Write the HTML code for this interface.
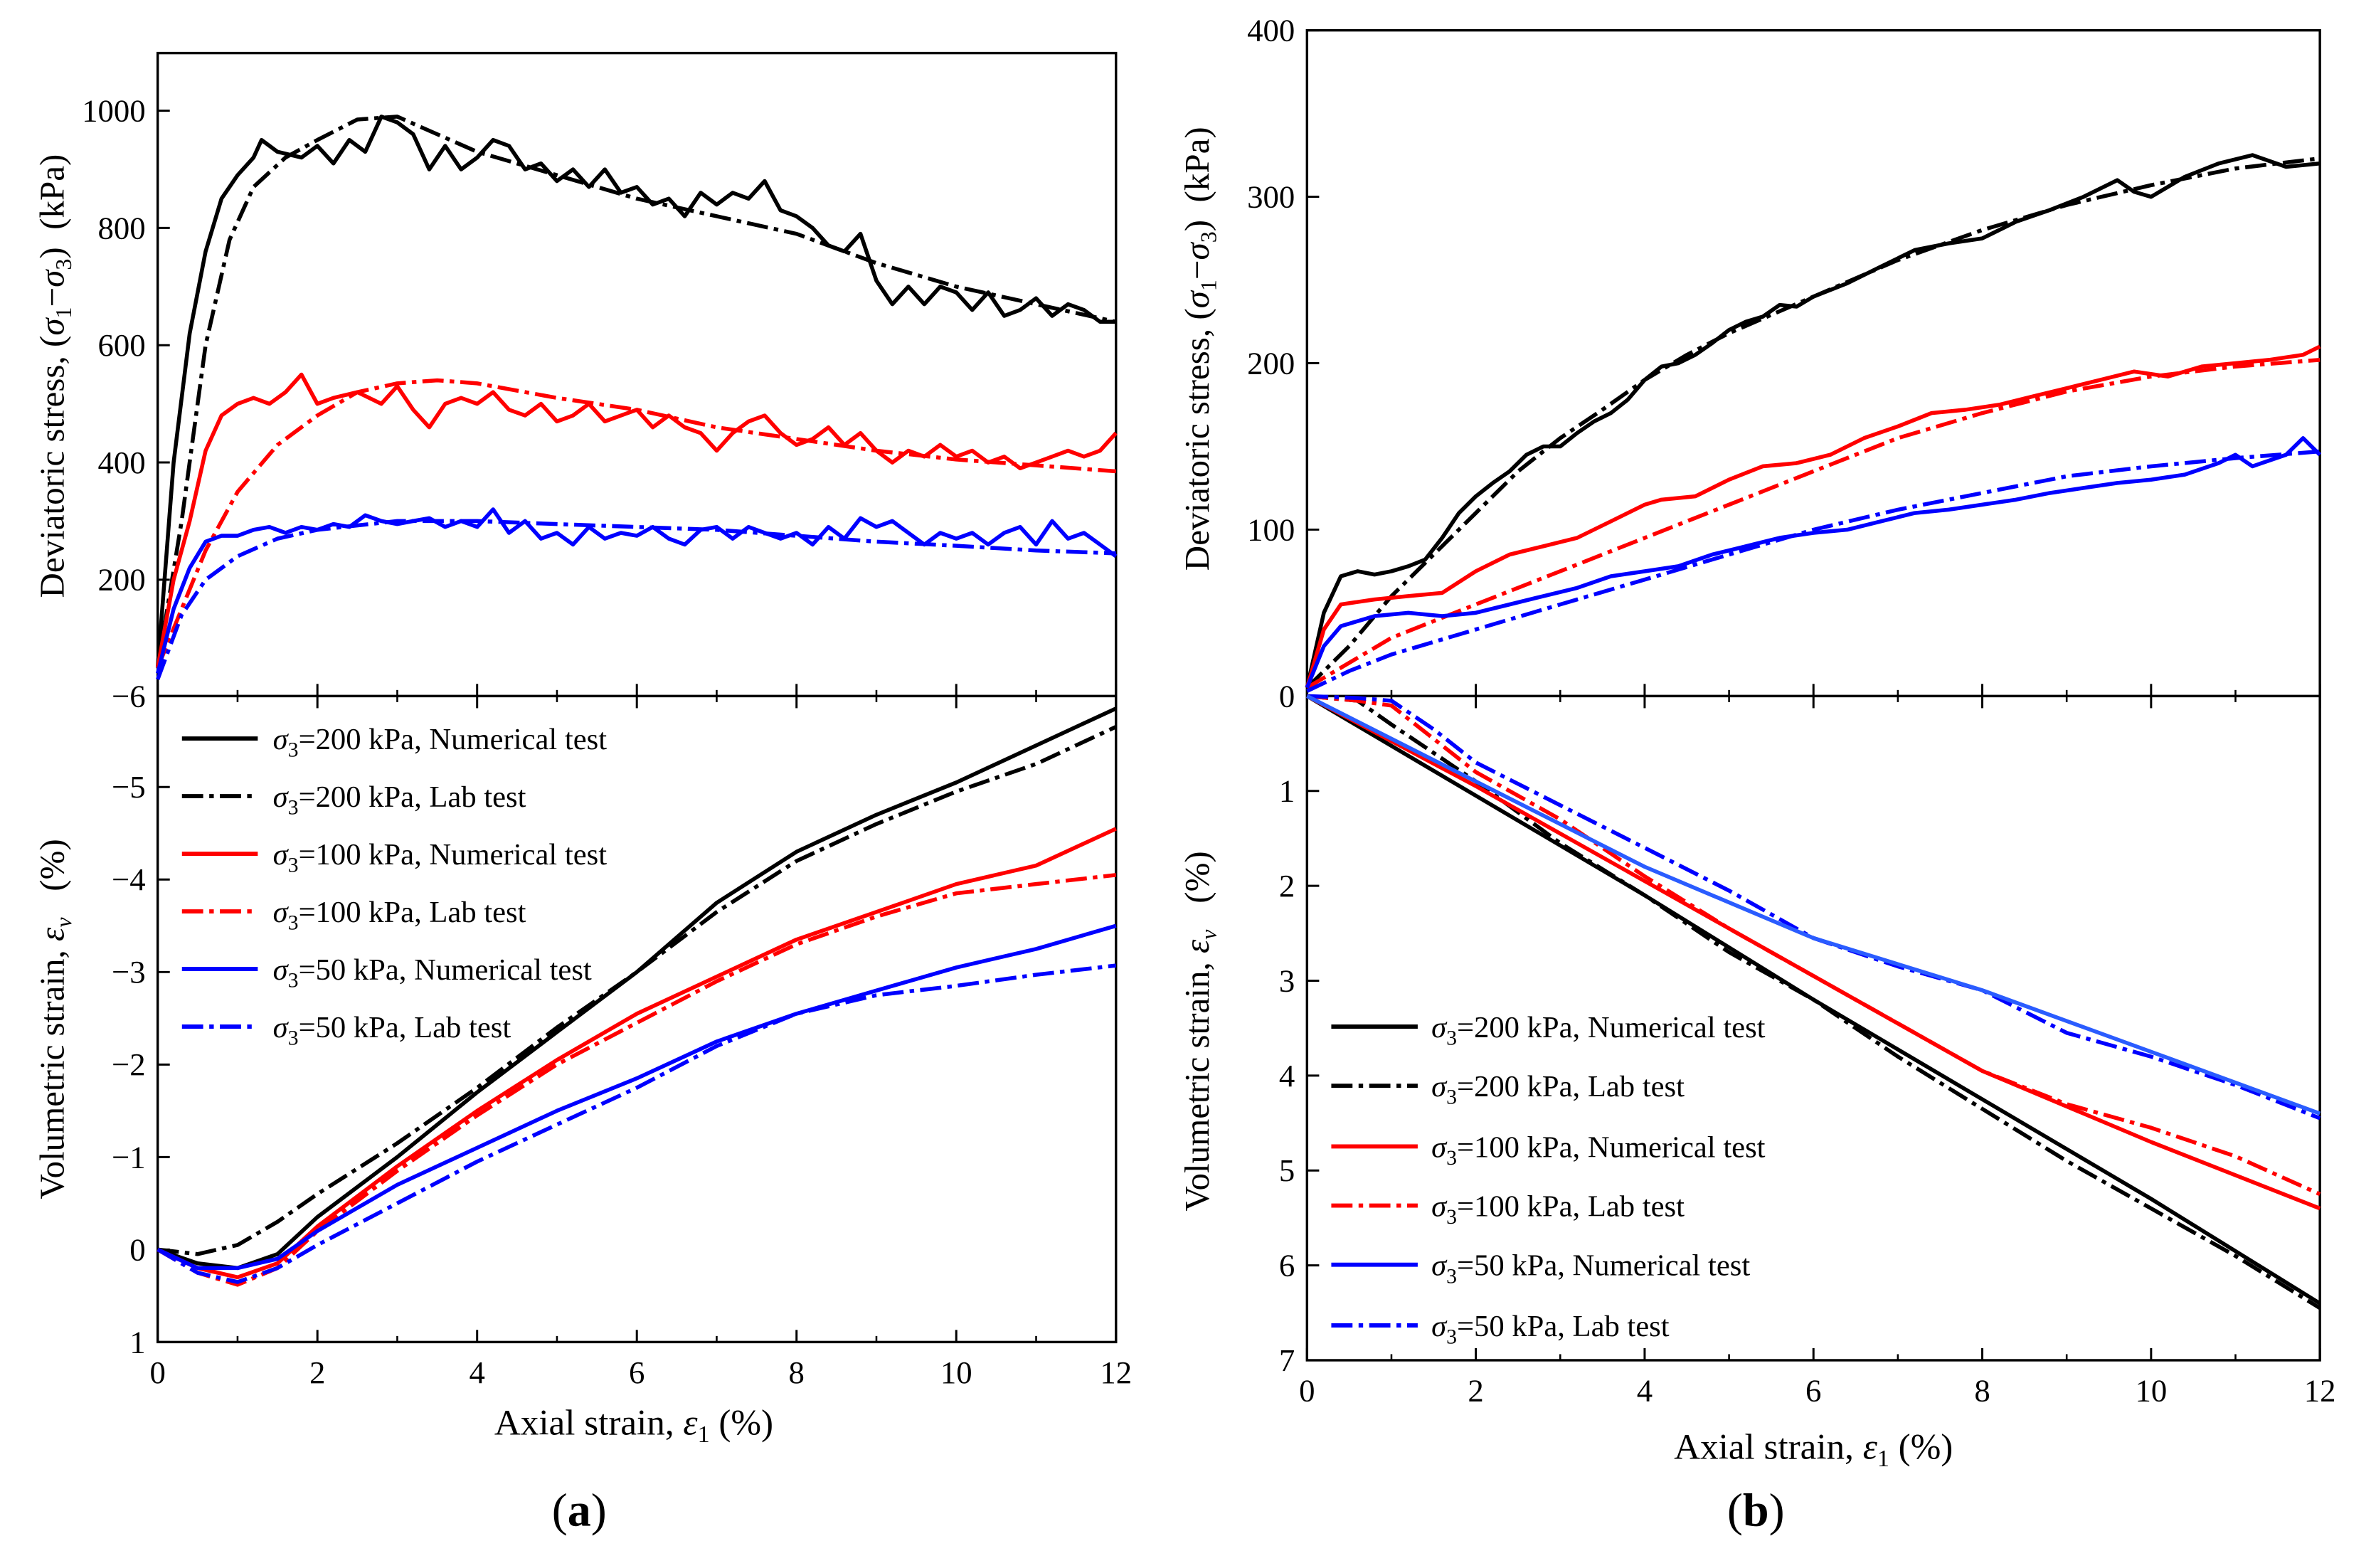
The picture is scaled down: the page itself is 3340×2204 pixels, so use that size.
<!DOCTYPE html>
<html><head><meta charset="utf-8"><style>
html,body{margin:0;padding:0;background:#fff}
svg{display:block}
text{font-family:"Liberation Serif",serif;fill:#000}
</style></head><body>
<svg id="fig" width="3340" height="2204" viewBox="0 0 1567 1034" preserveAspectRatio="none">
</svg>
<script>
// ---------- DATA (x = axial strain %, y = value) ----------
const aStressBlkNumX=[0,0.2,0.4,0.6,0.8,1.0,1.2,1.3,1.5,1.8,2.0,2.2,2.4,2.6,2.8,3.0,3.2,3.4,3.6,3.8,4.0,4.2,4.4,4.6,4.8,5.0,5.2,5.4,5.6,5.8,6.0,6.2,6.4,6.6,6.8,7.0,7.2,7.4,7.6,7.8,8.0,8.2,8.4,8.6,8.8,9.0,9.2,9.4,9.6,9.8,10.0,10.2,10.4,10.6,10.8,11.0,11.2,11.4,11.6,11.8,12];
const aStressBlkNumY=[50,400,620,760,850,890,920,950,930,920,940,910,950,930,990,980,960,900,940,900,920,950,940,900,910,880,900,870,900,860,870,840,850,820,860,840,860,850,880,830,820,800,770,760,790,710,670,700,670,700,690,660,690,650,660,680,650,670,660,640,640];
const aStressBlkLabX=[0,0.3,0.6,0.9,1.2,1.6,2.0,2.5,3.0,3.5,4,5,6,7,8,9,10,11,12];
const aStressBlkLabY=[50,300,600,780,870,920,950,985,990,960,930,890,850,820,790,740,700,670,640];
const aStressRedNumX=[0,0.2,0.4,0.6,0.8,1.0,1.2,1.4,1.6,1.8,2.0,2.2,2.5,2.8,3.0,3.2,3.4,3.6,3.8,4.0,4.2,4.4,4.6,4.8,5.0,5.2,5.4,5.6,5.8,6.0,6.2,6.4,6.6,6.8,7.0,7.2,7.4,7.6,7.8,8.0,8.2,8.4,8.6,8.8,9.0,9.2,9.4,9.6,9.8,10,10.2,10.4,10.6,10.8,11,11.2,11.4,11.6,11.8,12];
const aStressRedNumY=[50,200,300,420,480,500,510,500,520,550,500,510,520,500,530,490,460,500,510,500,520,490,480,500,470,480,500,470,480,490,460,480,460,450,420,450,470,480,450,430,440,460,430,450,420,400,420,410,430,410,420,400,410,390,400,410,420,410,420,450];
const aStressRedLabX=[0,0.3,0.6,1,1.5,2,2.5,3,3.5,4,5,6,7,8,9,10,11,12];
const aStressRedLabY=[50,150,250,350,430,480,520,535,540,535,510,490,460,440,420,405,395,385];
const aStressBluNumX=[0,0.2,0.4,0.6,0.8,1.0,1.2,1.4,1.6,1.8,2,2.2,2.4,2.6,2.8,3.0,3.2,3.4,3.6,3.8,4.0,4.2,4.4,4.6,4.8,5,5.2,5.4,5.6,5.8,6,6.2,6.4,6.6,6.8,7,7.2,7.4,7.6,7.8,8,8.2,8.4,8.6,8.8,9,9.2,9.4,9.6,9.8,10,10.2,10.4,10.6,10.8,11,11.2,11.4,11.6,11.8,12];
const aStressBluNumY=[40,150,220,265,275,275,285,290,280,290,285,295,290,310,300,295,300,305,290,300,290,320,280,300,270,280,260,290,270,280,275,290,270,260,285,290,270,290,280,270,280,260,290,270,305,290,300,280,260,280,270,280,260,280,290,260,300,270,280,260,240];
const aStressBluLabX=[0,0.3,0.6,1,1.5,2,3,4,5,6,7,8,9,10,11,12];
const aStressBluLabY=[30,140,200,240,270,285,300,300,295,290,285,275,265,258,250,245];

const aVolX=[0,0.5,1,1.5,2,3,4,5,6,7,8,9,10,11,12];
const aVolBlkNum=[0,0.15,0.2,0.05,-0.35,-1.0,-1.7,-2.35,-3.0,-3.75,-4.3,-4.7,-5.05,-5.45,-5.85];
const aVolBlkLab=[0,0.05,-0.05,-0.3,-0.6,-1.15,-1.75,-2.4,-3.0,-3.65,-4.2,-4.6,-4.95,-5.25,-5.65];
const aVolRedNum=[0,0.2,0.3,0.15,-0.25,-0.9,-1.5,-2.05,-2.55,-2.95,-3.35,-3.65,-3.95,-4.15,-4.55];
const aVolRedLab=[0,0.25,0.38,0.2,-0.2,-0.85,-1.45,-2.0,-2.45,-2.9,-3.3,-3.6,-3.85,-3.95,-4.05];
const aVolBluNum=[0,0.2,0.2,0.1,-0.2,-0.7,-1.1,-1.5,-1.85,-2.25,-2.55,-2.8,-3.05,-3.25,-3.5];
const aVolBluLab=[0,0.25,0.35,0.2,-0.05,-0.5,-0.95,-1.35,-1.75,-2.2,-2.55,-2.75,-2.85,-2.97,-3.07];

const bStressBlkNumX=[0,0.2,0.4,0.6,0.8,1.0,1.2,1.4,1.6,1.8,2.0,2.2,2.4,2.6,2.8,3.0,3.2,3.4,3.6,3.8,4.0,4.2,4.4,4.6,4.8,5.0,5.2,5.4,5.6,5.8,6.0,6.4,6.8,7.2,7.6,8.0,8.4,8.8,9.2,9.6,9.8,10,10.4,10.8,11.2,11.6,12];
const bStressBlkNumY=[5,50,72,75,73,75,78,82,95,110,120,128,135,145,150,150,158,165,170,178,190,198,200,205,212,220,225,228,235,234,240,248,258,268,272,275,285,292,300,310,303,300,312,320,325,318,320];
const bStressBlkLabX=[0,0.5,1.0,1.5,2.0,2.5,3,3.5,4,4.5,5,6,7,8,9,10,11,12];
const bStressBlkLabY=[5,30,60,85,110,135,155,172,190,205,218,240,262,280,295,307,317,323];
const bStressRedNumX=[0,0.2,0.4,0.8,1.2,1.6,2.0,2.4,2.8,3.2,3.6,4.0,4.2,4.6,5.0,5.4,5.8,6.2,6.6,7.0,7.4,7.8,8.2,8.6,9,9.4,9.8,10.2,10.6,11,11.4,11.8,12];
const bStressRedNumY=[5,40,55,58,60,62,75,85,90,95,105,115,118,120,130,138,140,145,155,162,170,172,175,180,185,190,195,192,198,200,202,205,210];
const bStressRedLabX=[0,0.5,1,2,3,4,5,6,7,8,9,10,11,12];
const bStressRedLabY=[5,20,35,55,75,95,115,135,155,170,183,192,198,202];
const bStressBluNumX=[0,0.2,0.4,0.8,1.2,1.6,2.0,2.4,2.8,3.2,3.6,4.0,4.4,4.8,5.2,5.6,6.0,6.4,6.8,7.2,7.6,8,8.4,8.8,9.2,9.6,10,10.4,10.8,11,11.2,11.6,11.8,12];
const bStressBluNumY=[5,30,42,48,50,48,50,55,60,65,72,75,78,85,90,95,98,100,105,110,112,115,118,122,125,128,130,133,140,145,138,145,155,145];
const bStressBluLabX=[0,0.5,1,2,3,4,5,6,7,8,9,10,11,12];
const bStressBluLabY=[3,15,25,40,55,70,85,100,112,122,132,138,143,147];

const bVolNumX=[0,2,4,6,8,10,12];
const bVolBlkNum=[0,1.05,2.1,3.2,4.25,5.3,6.4];
const bVolRedNum=[0,0.95,1.95,2.95,3.95,4.7,5.4];
const bVolBluNum=[0,0.9,1.8,2.55,3.1,3.75,4.4];
const bVolLabX=[0,0.6,1,1.5,2,3,4,5,6,7,8,9,10,11,12];
const bVolBlkLab=[0,0.05,0.3,0.6,0.9,1.55,2.1,2.7,3.2,3.8,4.35,4.9,5.4,5.9,6.45];
const bVolRedLab=[0,0.05,0.1,0.45,0.8,1.3,1.9,2.45,2.95,3.45,3.95,4.3,4.55,4.85,5.25];
const bVolBluLab=[0,0.02,0.05,0.35,0.7,1.15,1.6,2.05,2.55,2.85,3.1,3.55,3.8,4.1,4.45];

const xTicks=[0,2,4,6,8,10,12];
const aTopTicks=[200,400,600,800,1000];
const aBotTicks=[1,0,-1,-2,-3,-4,-5];
const bTopTicks=[0,100,200,300,400];
const bBotTicks=[1,2,3,4,5,6,7];
const legendLabels=["=200 kPa, Numerical test","=200 kPa, Lab test","=100 kPa, Numerical test","=100 kPa, Lab test","=50 kPa, Numerical test","=50 kPa, Lab test"];

// ---------- DRAW ----------
const NS="http://www.w3.org/2000/svg";
const svg=document.getElementById('fig');
function el(tag,attrs,parent){const e=document.createElementNS(NS,tag);for(const k in attrs)e.setAttribute(k,attrs[k]);(parent||svg).appendChild(e);return e;}
const RED="#ff0000",BLU="#0000ff",BLK="#000000",DASH="14,4,3,4";
function lin(d0,d1,p0,p1){return v=>p0+(v-d0)*(p1-p0)/(d1-d0);}

function series(xs,ys,sx,sy,color,dashed,name){
  const p=xs.map((x,i)=>sx(x).toFixed(1)+","+sy(ys[i]).toFixed(1)).join(" ");
  const e=el('polyline',{points:p,fill:'none',stroke:color,'stroke-width':2.6,'stroke-linejoin':'round'});
  if(dashed)e.setAttribute('stroke-dasharray',DASH);
  
  
}
function txt(x,y,s,size,anchor,name,parent){const t=el('text',{x:x,y:y,'font-size':size,'text-anchor':anchor||'middle'},parent);t.textContent=s;return t;}

const AX0=104,AX1=736,ATOP=35,AMID=459,ABOT=885;
const axA=lin(0,12,AX0,AX1);
const ayTop=lin(0,1000,459.6,73);
const ayBot=lin(0,1,824,885);
const BX0=862,BX1=1530,BTOP=20,BMID=459,BBOT=897;
const axB=lin(0,12,BX0,BX1);
const byTop=lin(0,400,459,20);
const byBot=lin(0,7,459,897);

function frame(x0,x1,top,mid,bot,name){
  const r=el('rect',{x:x0,y:top,width:x1-x0,height:bot-top,fill:'none',stroke:'#000','stroke-width':1.6});
  
  const l=el('line',{x1:x0,x2:x1,y1:mid,y2:mid,stroke:'#000','stroke-width':1.6});
  
}
frame(AX0,AX1,ATOP,AMID,ABOT,'panel-a-frame');
frame(BX0,BX1,BTOP,BMID,BBOT,'panel-b-frame');

function xAxisTicks(ax,mid,bot,prefix){
  xTicks.forEach((v,i)=>{
    const x=ax(v);
    el('line',{x1:x,x2:x,y1:bot,y2:bot-8,stroke:'#000','stroke-width':1.4});
    el('line',{x1:x,x2:x,y1:mid-8,y2:mid+8,stroke:'#000','stroke-width':1.4});
    if(i<xTicks.length-1){const xm=ax(v+1);
      el('line',{x1:xm,x2:xm,y1:bot,y2:bot-4,stroke:'#000','stroke-width':1.2});
      el('line',{x1:xm,x2:xm,y1:mid-4,y2:mid+4,stroke:'#000','stroke-width':1.2});}
    txt(x,bot+27,String(v),21,'middle',prefix+'-x-tick-'+v);
  });
}
xAxisTicks(axA,AMID,ABOT,'a');
xAxisTicks(axB,BMID,BBOT,'b');

function yTicks(ticks,sy,x0,x1,prefix,fmt){
  ticks.forEach(v=>{const y=sy(v);
    el('line',{x1:x0,x2:x0+8,y1:y,y2:y,stroke:'#000','stroke-width':1.4});
    txt(x0-8,y+7,fmt?fmt(v):String(v),21,'end',prefix+'-y-tick-'+v);
  });
}
const neg=v=>v<0?"\u2212"+(-v):String(v);
yTicks(aTopTicks,ayTop,AX0,AX1,'a-top');
txt(AX0-8,AMID+7,"\u22126",21,'end','a-top-y-tick-min');
yTicks(aBotTicks,ayBot,AX0,AX1,'a-bot',neg);
yTicks(bTopTicks,byTop,BX0,BX1,'b-top');
yTicks(bBotTicks,byBot,BX0,BX1,'b-bot');

series(aStressBlkLabX,aStressBlkLabY,axA,ayTop,BLK,true,'a-stress-200-lab');
series(aStressRedLabX,aStressRedLabY,axA,ayTop,RED,true,'a-stress-100-lab');
series(aStressBluLabX,aStressBluLabY,axA,ayTop,BLU,true,'a-stress-50-lab');
series(aStressBlkNumX,aStressBlkNumY,axA,ayTop,BLK,false,'a-stress-200-num');
series(aStressRedNumX,aStressRedNumY,axA,ayTop,RED,false,'a-stress-100-num');
series(aStressBluNumX,aStressBluNumY,axA,ayTop,BLU,false,'a-stress-50-num');
series(aVolX,aVolBlkLab,axA,ayBot,BLK,true,'a-vol-200-lab');
series(aVolX,aVolRedLab,axA,ayBot,RED,true,'a-vol-100-lab');
series(aVolX,aVolBluLab,axA,ayBot,BLU,true,'a-vol-50-lab');
series(aVolX,aVolBlkNum,axA,ayBot,BLK,false,'a-vol-200-num');
series(aVolX,aVolRedNum,axA,ayBot,RED,false,'a-vol-100-num');
series(aVolX,aVolBluNum,axA,ayBot,BLU,false,'a-vol-50-num');
series(bStressBlkLabX,bStressBlkLabY,axB,byTop,BLK,true,'b-stress-200-lab');
series(bStressRedLabX,bStressRedLabY,axB,byTop,RED,true,'b-stress-100-lab');
series(bStressBluLabX,bStressBluLabY,axB,byTop,BLU,true,'b-stress-50-lab');
series(bStressBlkNumX,bStressBlkNumY,axB,byTop,BLK,false,'b-stress-200-num');
series(bStressRedNumX,bStressRedNumY,axB,byTop,RED,false,'b-stress-100-num');
series(bStressBluNumX,bStressBluNumY,axB,byTop,BLU,false,'b-stress-50-num');
series(bVolLabX,bVolBlkLab,axB,byBot,BLK,true,'b-vol-200-lab');
series(bVolLabX,bVolRedLab,axB,byBot,RED,true,'b-vol-100-lab');
series(bVolLabX,bVolBluLab,axB,byBot,BLU,true,'b-vol-50-lab');
series(bVolNumX,bVolBlkNum,axB,byBot,BLK,false,'b-vol-200-num');
series(bVolNumX,bVolRedNum,axB,byBot,RED,false,'b-vol-100-num');
series(bVolNumX,bVolBluNum,axB,byBot,"#2a5cff",false,'b-vol-50-num');

const legColors=[BLK,BLK,RED,RED,BLU,BLU];
function legend(lx0,lx1,tx,ys,prefix){
  legendLabels.forEach((s,i)=>{
    const y=ys[i];
    const l=el('line',{x1:lx0,x2:lx1,y1:y,y2:y,stroke:legColors[i],'stroke-width':2.8});
    if(i%2)l.setAttribute('stroke-dasharray',DASH);
    
    
    const t=el('text',{x:tx,y:y+7,'font-size':20});
    
    
    const s1=el('tspan',{'font-style':'italic'},t);s1.textContent="\u03c3";
    const s2=el('tspan',{'font-size':14,dy:5},t);s2.textContent="3";
    const s3=el('tspan',{dy:-5},t);s3.textContent=s;
  });
}
legend(120,170,180,[487,525,563,601,639,677],'a');
legend(878,935,944,[677,716,756,795,834,874],'b');

function ytitle(x,y,parts,name){
  const t=el('text',{x:0,y:0,'font-size':23,'text-anchor':'middle',transform:`translate(${x},${y}) rotate(-90)`});
  
  parts.forEach(p=>{const s=el('tspan',p.a||{},t);s.textContent=p.t;});
}
const stressParts=[{t:"Deviatoric stress, ("},{t:"\u03c3",a:{'font-style':'italic'}},{t:"1",a:{'font-size':15,dy:5}},{t:"\u2212",a:{dy:-5}},{t:"\u03c3",a:{'font-style':'italic'}},{t:"3",a:{'font-size':15,dy:5}},{t:")\u00a0\u00a0(kPa)",a:{dy:-5}}];
const volParts=[{t:"Volumetric strain, "},{t:"\u03b5",a:{'font-style':'italic'}},{t:"v",a:{'font-size':15,dy:5,'font-style':'italic'}},{t:"\u00a0\u00a0\u00a0(%)",a:{dy:-5}}];
ytitle(42,248,stressParts,'a-y-axis-title-stress');
ytitle(42,672,volParts,'a-y-axis-title-volumetric');
ytitle(797,230,stressParts,'b-y-axis-title-stress');
ytitle(797,680,volParts,'b-y-axis-title-volumetric');

function xtitle(x,y,name){
  const t=el('text',{x:x,y:y,'font-size':24,'text-anchor':'middle'});
  
  [{t:"Axial strain, "},{t:"\u03b5",a:{'font-style':'italic'}},{t:"1",a:{'font-size':16,dy:5}},{t:" (%)",a:{dy:-5}}].forEach(p=>{const s=el('tspan',p.a||{},t);s.textContent=p.t;});
}
xtitle(418,946,'a-x-axis-title');
xtitle(1196,962,'b-x-axis-title');

function plabel(x,y,c,name){
  const t=el('text',{x:x,y:y,'font-size':31,'text-anchor':'middle'});
  
  const a=el('tspan',{},t);a.textContent="(";
  const b=el('tspan',{'font-weight':'bold'},t);b.textContent=c;
  const d=el('tspan',{},t);d.textContent=")";
}
plabel(382,1006,'a','panel-a-label');
plabel(1158,1006,'b','panel-b-label');
</script>
</body></html>
